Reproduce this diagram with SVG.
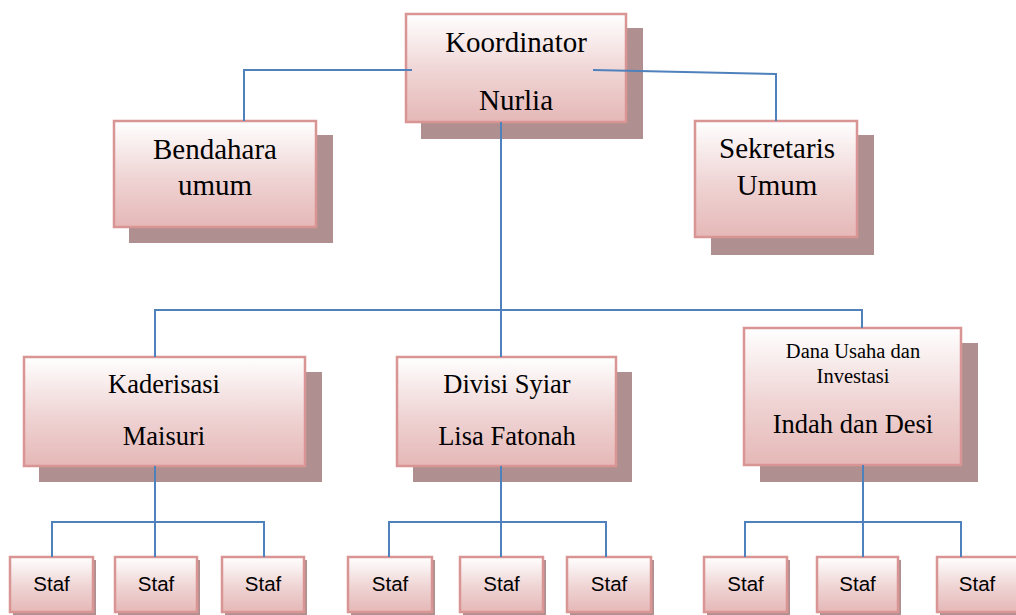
<svg xmlns="http://www.w3.org/2000/svg" width="1016" height="615" viewBox="0 0 1016 615">
<defs>
<linearGradient id="g" x1="0" y1="0" x2="0" y2="1">
<stop offset="0" stop-color="#ffffff"/>
<stop offset="0.55" stop-color="#efd3d3"/>
<stop offset="1" stop-color="#e5b8b7"/>
</linearGradient>
<style>
.sh{fill:#af8f8f}
.bx{fill:url(#g);stroke:#d99594;stroke-width:2.5}
.t{font-family:"Liberation Serif","Times New Roman",serif;fill:#000;text-anchor:middle}
.t29{font-size:29px}
.t26{font-size:26.5px}
.t21{font-size:20.5px}
.s{font-family:"Liberation Sans",Arial,sans-serif;font-size:20.5px;fill:#000;text-anchor:middle}
.c{fill:none;stroke:#4f81bd;stroke-width:2}
</style>
</defs>
<rect width="1016" height="615" fill="#ffffff"/>

<g id="koordinator">
<rect class="sh" x="421" y="28" width="222" height="111"/>
<rect class="bx" x="406" y="14" width="220" height="108"/>
<text class="t t29" x="516" y="52">Koordinator</text>
<text class="t t29" x="516" y="110">Nurlia</text>
</g>

<g id="bendahara">
<rect class="sh" x="129" y="135" width="204" height="108"/>
<rect class="bx" x="114" y="121" width="202" height="106"/>
<text class="t t29" x="215" y="159">Bendahara</text>
<text class="t t29" x="215" y="195">umum</text>
</g>

<g id="sekretaris">
<rect class="sh" x="711" y="135" width="163" height="120"/>
<rect class="bx" x="695" y="121" width="162" height="116"/>
<text class="t t29" x="777" y="158">Sekretaris</text>
<text class="t t29" x="777" y="195">Umum</text>
</g>

<g id="kaderisasi">
<rect class="sh" x="39" y="372" width="283" height="110"/>
<rect class="bx" x="24" y="357" width="281" height="109"/>
<text class="t t26" x="164" y="393">Kaderisasi</text>
<text class="t t26" x="164" y="445">Maisuri</text>
</g>

<g id="divisi-syiar">
<rect class="sh" x="413" y="372" width="219" height="110"/>
<rect class="bx" x="397" y="357" width="219" height="109"/>
<text class="t t26" x="507" y="393">Divisi Syiar</text>
<text class="t t26" x="507" y="445">Lisa Fatonah</text>
</g>

<g id="dana-usaha">
<rect class="sh" x="760" y="343" width="218" height="139"/>
<rect class="bx" x="744" y="328" width="217" height="137"/>
<text class="t t21" x="853" y="358">Dana Usaha dan</text>
<text class="t t21" x="853" y="383">Investasi</text>
<text class="t t26" x="853" y="433">Indah dan Desi</text>
</g>

<g id="staf-1"><rect class="sh" x="13" y="560" width="83" height="56"/><rect class="bx" x="10" y="557" width="83" height="55"/><text class="s" x="51.5" y="591">Staf</text></g>
<g id="staf-2"><rect class="sh" x="118" y="560" width="82" height="56"/><rect class="bx" x="115" y="557" width="82" height="55"/><text class="s" x="156" y="591">Staf</text></g>
<g id="staf-3"><rect class="sh" x="225" y="560" width="82" height="56"/><rect class="bx" x="222" y="557" width="82" height="55"/><text class="s" x="263" y="591">Staf</text></g>
<g id="staf-4"><rect class="sh" x="351" y="560" width="84" height="56"/><rect class="bx" x="348" y="557" width="84" height="55"/><text class="s" x="390" y="591">Staf</text></g>
<g id="staf-5"><rect class="sh" x="463" y="560" width="83" height="56"/><rect class="bx" x="460" y="557" width="83" height="55"/><text class="s" x="501.5" y="591">Staf</text></g>
<g id="staf-6"><rect class="sh" x="570" y="560" width="84" height="56"/><rect class="bx" x="567" y="557" width="84" height="55"/><text class="s" x="609" y="591">Staf</text></g>
<g id="staf-7"><rect class="sh" x="707" y="560" width="83" height="56"/><rect class="bx" x="704" y="557" width="83" height="55"/><text class="s" x="745.5" y="591">Staf</text></g>
<g id="staf-8"><rect class="sh" x="820" y="560" width="81" height="56"/><rect class="bx" x="817" y="557" width="81" height="55"/><text class="s" x="857.5" y="591">Staf</text></g>
<g id="staf-9"><rect class="sh" x="940" y="560" width="82" height="56"/><rect class="bx" x="937" y="557" width="82" height="55"/><text class="s" x="977" y="591">Staf</text></g>

<g id="connectors">
<polyline class="c" points="412,70 244,70 244,121"/>
<polyline class="c" points="593,70 776,74 776,121"/>
<line class="c" x1="501" y1="122" x2="501" y2="357"/>
<polyline class="c" points="155,357 155,310 862,310 862,328"/>
<line class="c" x1="155" y1="466" x2="155" y2="557"/>
<polyline class="c" points="52,557 52,522 264,522 264,557"/>
<line class="c" x1="501" y1="466" x2="501" y2="557"/>
<polyline class="c" points="389,557 389,522 606,522 606,557"/>
<line class="c" x1="863" y1="465" x2="863" y2="557"/>
<polyline class="c" points="745,557 745,522 961,522 961,557"/>
</g>
</svg>
